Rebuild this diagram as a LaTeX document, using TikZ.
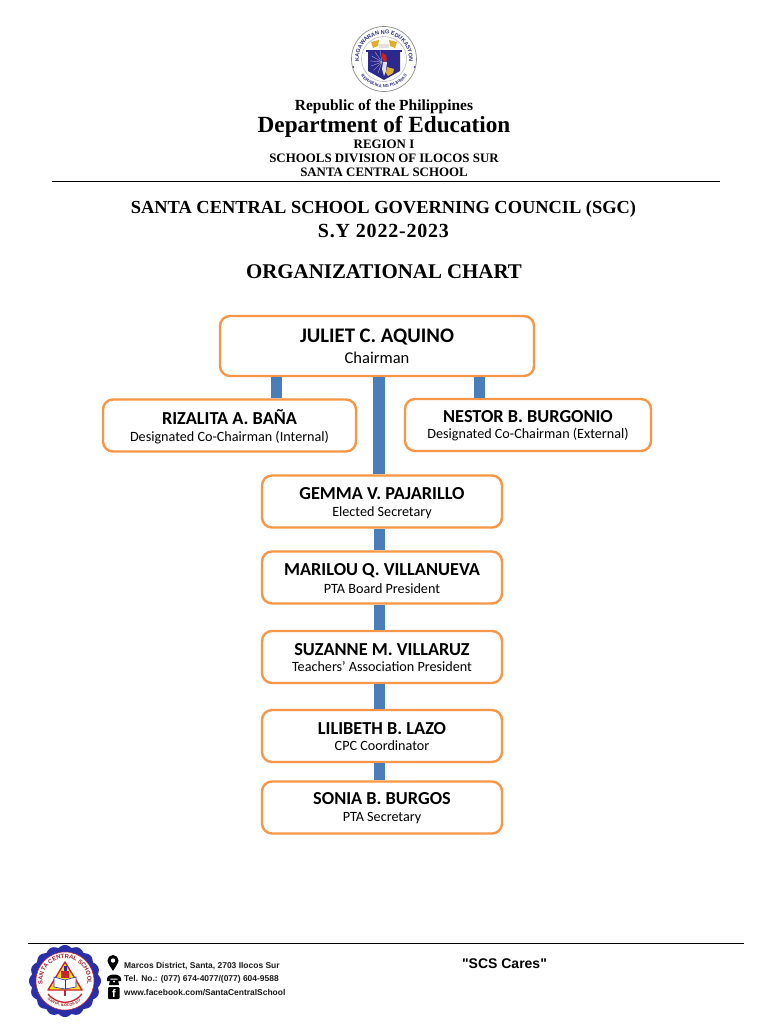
\documentclass[tikz,border=0pt]{standalone}
\usepackage{fontspec}
\setmainfont{Liberation Serif}
\newfontfamily\chartfont{Carlito}
\newfontfamily\footfont{Liberation Sans}
\usetikzlibrary{decorations.text,calc}
\definecolor{boxorange}{HTML}{F79646}
\definecolor{linkblue}{HTML}{4A7EBB}
\definecolor{depblue}{HTML}{2B2A8C}
\definecolor{depgold}{HTML}{E0AE2C}
\definecolor{sealblue}{HTML}{2A2FA8}
\definecolor{sealred}{HTML}{C8232A}
\definecolor{sealyellow}{HTML}{FFE21A}
\newcommand{\fsz}[1]{\fontsize{#1}{#1}\selectfont}
\newcommand{\pname}[1]{{\chartfont\bfseries\fsz{18.3}\rule{0pt}{13.5pt}#1}}
\newcommand{\prole}[1]{{\chartfont\fsz{14.15}#1}}
\newcommand{\bignm}[1]{{\chartfont\bfseries\fsz{20.7}#1}}
\newcommand{\bigrl}[1]{{\chartfont\fsz{16.5}#1}}
\tikzset{
  orgbox/.style={draw=boxorange,line width=2.4pt,fill=white,rounded corners=10pt,align=center,inner sep=0pt,text=black},
  stdbox/.style={orgbox,minimum width=240pt,minimum height=52pt},
  link/.style={draw=linkblue,line width=11pt},
  head/.style={inner sep=0pt,text=black},
  foot/.style={inner sep=0pt,anchor=west,font=\footfont\bfseries\fsz{8.45},text=black!90},
  rule/.style={draw=black,line width=0.9pt}
}
\begin{document}
\begin{tikzpicture}[x=1pt,y=-1pt]
\useasboundingbox (0,0) rectangle (768,1024);
\fill[white] (0,0) rectangle (768,1024);
% DepEd seal
\begin{scope}[shift={(384,59)},y=1pt]
  \fill[white] (0,0) circle (32.5);
  \draw[black!45,line width=0.7pt] (0,0) circle (32.5);
  \draw[black!35,line width=0.4pt] (0,0) circle (22.5);
  \path[decorate,decoration={text along path,text align=center,text={|\footfont\bfseries\fsz{5.5}\color{depblue}|KAGAWARAN NG EDUKASYON}}] (205:25) arc (205:-25:25);
  \path[decorate,decoration={text along path,text align=center,text={|\footfont\bfseries\fsz{4.2}\color{depblue}|REPUBLIKA NG PILIPINAS}}] (212:28.5) arc (212:328:28.5);
  \fill[depblue] (-30.5,-8) circle (0.9) (30.5,-8) circle (0.9);
  % torches and book
  \fill[depgold] (-13,17) -- (-5,19) -- (-6,13) -- (-11,11) -- cycle;
  \fill[depgold] (13,17) -- (5,19) -- (6,13) -- (11,11) -- cycle;
  \fill[black!12] (-5,15) rectangle (5,11);
  % roof and shield
  \fill[depblue] (-18,9) rectangle (18,7);
  \fill[depblue] (-16,7) -- (16,7) -- (16,-12) -- (0,-21) -- (-16,-12) -- cycle;
  \foreach \a in {100,125,...,260} \draw[white!70!depblue,line width=0.3pt] (-2,-3) -- +(\a:12);
  \fill[sealred] (-2,6) -- (2,4) -- (3,-1) -- (0,-3) -- (-2,1) -- cycle;
  \fill[white!85!depblue] (-1,-3) -- (3,-3) -- (2,-12) -- (0,-17) -- (-2,-10) -- cycle;
  \fill[depgold] (3,-8) -- (10,-10) -- (9,-14) -- (4,-17) -- (2,-14) -- cycle;
\end{scope}
% letterhead
\node[head,font=\bfseries\fsz{15.45}] (rep) at (384,107) {Republic of the Philippines};
\node[head,font=\bfseries\fsz{23.2}] (dep) at (384,127) {Department of Education};
\node[head,font=\bfseries\fsz{12.9}] (reg) at (384,144) {REGION I};
\node[head,font=\bfseries\fsz{12.9}] (div) at (384,158) {SCHOOLS DIVISION OF ILOCOS SUR};
\node[head,font=\bfseries\fsz{12.9}] (sch) at (384,172) {SANTA CENTRAL SCHOOL};
\coordinate (hl) at (52,181); \coordinate (hr) at (720,181);
\draw[rule] (hl) -- (hr);
% titles
\node[head,font=\bfseries\fsz{18.4}] (t1) at (383.5,209.5) {SANTA CENTRAL SCHOOL GOVERNING COUNCIL (SGC)};
\node[head,font=\bfseries\fsz{20}\addfontfeature{LetterSpace=4}] (t2) at (383.5,230.5) {S.Y 2022-2023};
\node[head,font=\bfseries\fsz{20.9}] (t3) at (384,272) {ORGANIZATIONAL CHART};
% boxes
\coordinate (spine) at (379,0);
\coordinate (lspine) at (276,0);
\coordinate (rspine) at (479,0);
\path
 node[orgbox,minimum width=314pt,minimum height=60pt] (chair) at (377,346) {\bignm{JULIET C. AQUINO}\\[6pt]\bigrl{Chairman}}
 node[orgbox,minimum width=253pt,minimum height=52pt] (riz) at (229.5,425.5) {\pname{\rule{0pt}{17pt}RIZALITA A. BAÑA}\\[4.5pt]\prole{Designated Co-Chairman (Internal)}}
 node[orgbox,minimum width=246pt,minimum height=52pt] (nes) at (528,425) {\pname{NESTOR B. BURGONIO}\\[4.5pt]\prole{Designated Co-Chairman (External)}}
 node[stdbox] (gem) at (382,501.5) {\pname{\rule{0pt}{15pt}GEMMA V. PAJARILLO}\\[4.5pt]\prole{Elected Secretary}}
 node[stdbox] (mar) at (382,577.5) {\pname{MARILOU Q. VILLANUEVA}\\[4.5pt]\prole{PTA Board President}}
 node[stdbox] (suz) at (382,657) {\pname{SUZANNE M. VILLARUZ}\\[4.5pt]\prole{Teachers’ Association President}}
 node[stdbox] (lil) at (382,736) {\pname{LILIBETH B. LAZO}\\[4.5pt]\prole{CPC Coordinator}}
 node[stdbox] (son) at (382,807.5) {\pname{SONIA B. BURGOS}\\[4.5pt]\prole{PTA Secretary}};
\draw[link] (chair.south -| lspine) -- (riz.north -| lspine);
\draw[link] (chair.south -| rspine) -- (nes.north -| rspine);
\draw[link,line width=12pt] (chair.south -| spine) -- (gem.north -| spine);
\draw[link] (gem.south -| spine) -- (mar.north -| spine);
\draw[link] (mar.south -| spine) -- (suz.north -| spine);
\draw[link] (suz.south -| spine) -- (lil.north -| spine);
\draw[link] (lil.south -| spine) -- (son.north -| spine);
% footer
\coordinate (fl) at (28,943); \coordinate (fr) at (744,943);
\draw[rule] (fl) -- (fr);
\node[inner sep=0pt,font=\footfont\bfseries\fsz{14},text=black] (cares) at (504.5,964) {"SCS Cares"};
% school seal
\begin{scope}[shift={(65,981)},y=1pt]
  \fill[sealblue] plot[domain=0:360,samples=193,smooth] (\x:{33.5+2.5*abs(cos(8*\x))});
  \fill[white] (0,0) circle (29);
  \draw[sealred,line width=0.5pt] (0,0) circle (29);
  \path[decorate,decoration={text along path,text align=center,text={|\footfont\bfseries\fsz{5.9}\color{sealred!80!black}|SANTA CENTRAL SCHOOL}}] (205:22.5) arc (205:-25:22.5);
  \path[decorate,decoration={text along path,text align=center,text={|\footfont\bfseries\fsz{3.8}\color{sealred!80!black}|SANTA, ILOCOS SUR}}] (235:25.5) arc (235:305:25.5);
  \draw[sealred,line width=1.3pt] (-17,-13) arc (218:322:21.5);
  \fill[sealyellow,draw=sealred,line width=1.4pt,line join=round] (0,19) -- (17,-9) -- (-17,-9) -- cycle;
  \fill[sealred] (-4,3) rectangle (4,10);
  \fill[sealblue] (-1.5,10) rectangle (1.5,15);
  \fill[white,draw=sealblue,line width=0.6pt] (0,1) -- (-11,4) -- (-11,-6) -- (0,-8) -- (11,-6) -- (11,4) -- cycle;
  \draw[sealblue,line width=0.6pt] (0,1) -- (0,-8);
  \fill[sealred] (-1,-9) rectangle (1,-15);
\end{scope}
% contact icons
\fill[black] (113,971) .. controls (110,966) and (107.5,963) .. (107.5,960.5) arc (180:360:5.5) .. controls (118.5,963) and (116,966) .. (113,971) -- cycle;
\fill[white] (113,960.5) circle (2.2);
\fill[black] (107,979) .. controls (107,973) and (121,973) .. (121,979) -- (121,981) -- (118,981) -- (117.5,978.5) -- (110.5,978.5) -- (110,981) -- (107,981) -- cycle;
\fill[black] (110,979.5) -- (118,979.5) -- (119,985) -- (109,985) -- cycle;
\fill[white] (114,981.5) circle (1.2);
\fill[black,rounded corners=1pt] (108,987) rectangle (119.5,999);
\node[inner sep=0pt,font=\footfont\bfseries\fsz{11},text=white] (fb) at (114,993.5) {f};
\node[foot] (addr) at (124,966.5) {Marcos District, Santa, 2703 Ilocos Sur};
\node[foot] (tel) at (124,979.5) {Tel. No.: (077) 674-4077/(077) 604-9588};
\node[foot] (web) at (124,992.5) {www.facebook.com/SantaCentralSchool};
\end{tikzpicture}
\end{document}
